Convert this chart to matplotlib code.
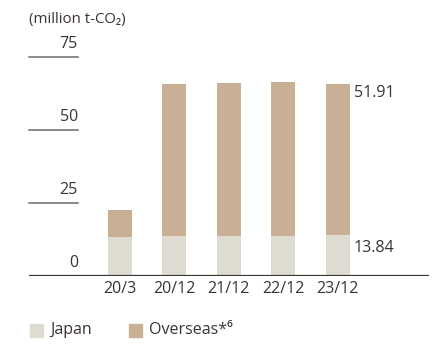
import numpy as np
import matplotlib.pyplot as plt

plt.rcParams["font.family"] = ["Open Sans", "DejaVu Sans"]

periods = ["20/3", "20/12", "21/12", "22/12", "23/12"]
japan = [13.2, 13.6, 13.7, 13.7, 13.84]
overseas = [9.3, 52.0, 52.3, 52.6, 51.91]
y_ticks = [0, 25, 50, 75]

c_japan = "#dedcd0"
c_overseas = "#c9b094"
c_text = "#3a3330"

fig = plt.figure(figsize=(4.32, 3.44), dpi=100)
ax = fig.add_axes([29 / 432, 68.3 / 344, 400 / 432, 219 / 344])

x = np.arange(len(periods))
ax.bar(x, japan, width=0.44, color=c_japan, linewidth=0)
ax.bar(x, overseas, width=0.44, bottom=japan, color=c_overseas, linewidth=0)

ax.set_xlim(-1.664, 5.676)
ax.set_ylim(0, 75)

# short tick rules on the left with labels above them
for v in y_ticks[1:]:
    ax.plot([-1.664, -0.765], [v, v], color="#6e6a66", lw=1.1, clip_on=False)
for v in y_ticks:
    ax.text(-0.765, v + 1.6, str(v), ha="right", va="bottom",
            fontsize=11.5, color=c_text)

ax.axhline(0, color=c_text, lw=1.6)

for s in ax.spines.values():
    s.set_visible(False)
ax.set_yticks([])
ax.set_xticks(x)
ax.set_xticklabels(periods, fontsize=11.5, color=c_text)
ax.tick_params(axis="x", length=0, pad=4)

# value labels for the last bar
last = len(periods) - 1
ax.text(last + 0.3, japan[last] + overseas[last] - 3.2, f"{overseas[last]:.2f}",
        ha="left", va="center", fontsize=11.5, color=c_text)
ax.text(last + 0.3, japan[last] - 4.3, f"{japan[last]:.2f}",
        ha="left", va="center", fontsize=11.5, color=c_text)

fig.text(29 / 432, 1 - 20 / 344, "(million t-CO\u2082)", ha="left", va="center",
         fontsize=10.8, color=c_text)

# legend
fig.patches.append(plt.Rectangle((30 / 432, 1 - 336.5 / 344), 13 / 432, 13 / 344,
                                 transform=fig.transFigure, color=c_japan))
fig.text(50 / 432, 1 - 330 / 344, "Japan", ha="left", va="center",
         fontsize=11.5, color=c_text)
fig.patches.append(plt.Rectangle((129 / 432, 1 - 336.5 / 344), 13 / 432, 13 / 344,
                                 transform=fig.transFigure, color=c_overseas))
fig.text(149 / 432, 1 - 330 / 344, "Overseas*\u2076", ha="left", va="center",
         fontsize=11.5, color=c_text)

fig.savefig("out.png", dpi=100)
